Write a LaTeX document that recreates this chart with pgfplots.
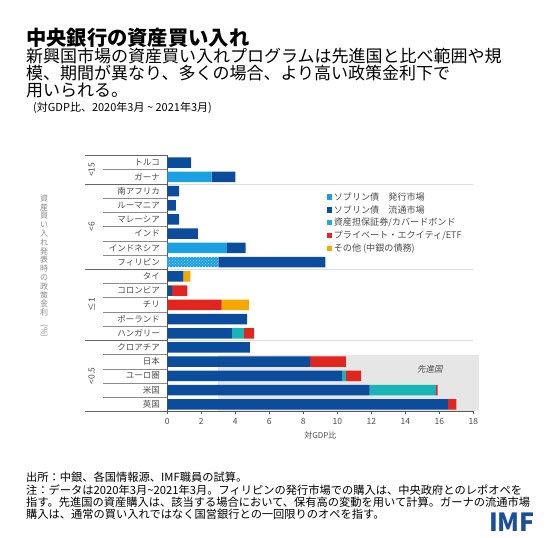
\documentclass[border=0pt]{standalone}
\usepackage{pgfplots}
\pgfplotsset{compat=1.18}
\usepackage{pgfplotstable}
\usepackage{fontspec}
\setmainfont{Noto Sans CJK JP}
\newfontfamily\slantcjk{Noto Sans CJK JP}[FakeSlant=0.2]
\usetikzlibrary{patterns}
\definecolor{lblue}{HTML}{1BA1E2}
\definecolor{dblue}{HTML}{0B4C9C}
\definecolor{tealc}{HTML}{17B4B8}
\definecolor{redc}{HTML}{E0261F}
\definecolor{orangec}{HTML}{F5A800}
\definecolor{txtgray}{HTML}{4D4D4D}
\definecolor{linegray}{HTML}{8C8C8C}
\definecolor{sepgray}{HTML}{DCDCDC}
\definecolor{bggray}{HTML}{E6E6E6}
\definecolor{imfblue}{HTML}{1B4F9C}

% y: 17 = top row (Turkey), 0 = bottom row (UK)
\pgfplotstableread{
y hatch lb db teal red orange
17 0 0 1.4 0 0 0
16 0 2.6 1.4 0 0 0
15 0 0 0.7 0 0 0
14 0 0 0.5 0 0 0
13 0 0 0.7 0 0 0
12 0 0 1.8 0 0 0
11 0 3.5 1.1 0 0 0
10 3.0 0 6.3 0 0 0
9 0 0 0.95 0 0 0.4
8 0 0 0.28 0 0.9 0
7 0 0 0 0 3.2 1.6
6 0 0 4.7 0 0 0
5 0 0 3.8 0.7 0.6 0
4 0 0 4.85 0 0 0
3 0 0 8.4 0 2.1 0
2 0 0 10.3 0.2 0.9 0
1 0 0 11.9 3.9 0.1 0
0 0 0 16.5 0 0.5 0
}\data

\pgfplotsset{geom/.style={
  at={(167.3pt,126.5pt)}, anchor=south west,
  scale only axis, width=306pt, height=256pt,
  xmin=0, xmax=18, ymin=-0.5, ymax=17.5, clip=false}}

\begin{document}
\begin{tikzpicture}[x=1pt,y=1pt]
\path[use as bounding box] (0,0) rectangle (560,538);

% Title block
\node[anchor=base west, inner sep=0, font=\bfseries\fontsize{20.3}{20}\selectfont] at (26,492) {中央銀行の資産買い入れ};
\node[anchor=base west, inner sep=0, font=\fontsize{17}{17}\selectfont] at (26,475) {新興国市場の資産買い入れプログラムは先進国と比べ範囲や規};
\node[anchor=base west, inner sep=0, font=\fontsize{17}{17}\selectfont] at (26,458) {模、期間が異なり、多くの場合、より高い政策金利下で};
\node[anchor=base west, inner sep=0, font=\fontsize{17}{17}\selectfont] at (26,441) {用いられる。};
\node[anchor=base west, inner sep=0, font=\fontsize{11}{11}\selectfont] at (33,426) {(対GDP比、2020年3月 \textasciitilde{} 2021年3月)};

% background layer axis
\begin{axis}[geom, hide axis]
\addplot[draw=none, forget plot] coordinates {(0,0)};
\fill[bggray] (axis cs:3,-0.5) rectangle (axis cs:18.35,3.5);
\draw[sepgray, line width=0.8pt] (axis cs:0,15.5) -- (axis cs:18,15.5);
\draw[sepgray, line width=0.8pt] (axis cs:0,9.5) -- (axis cs:18,9.5);
\draw[sepgray, line width=0.8pt] (axis cs:0,4.5) -- (axis cs:18,4.5);
\end{axis}

\begin{axis}[
  geom,
  xbar stacked, bar width=10.5pt,
  axis lines*=left,
  axis line style={-, draw=black!65, line width=0.6pt},
  xtick={0,2,...,18},
  xtick align=outside,
  major tick length=3pt,
  xtick style={draw=black!65, line width=0.5pt},
  ytick={0,...,17},
  ytick style={draw=none},
  yticklabels={英国,米国,ユーロ圏,日本,クロアチア,ハンガリー,ポーランド,チリ,コロンビア,タイ,フィリピン,インドネシア,インド,マレーシア,ルーマニア,南アフリカ,ガーナ,トルコ},
  yticklabel style={font=\fontsize{8.5}{9}\selectfont, text=txtgray, xshift=-4pt},
  /pgf/number format/assume math mode=true,
  xticklabel style={font=\fontsize{8.5}{9}\selectfont, text=txtgray},
  xlabel={対GDP比},
  xlabel style={font=\fontsize{8}{9}\selectfont, text=txtgray, yshift=-1pt},
  legend style={at={(axis description cs:0.52,0.865)}, anchor=north west, draw=none, fill=none,
     font=\fontsize{9.1}{10}\selectfont, text=txtgray, row sep=-0.3pt, inner sep=0pt,
     cells={anchor=west}},
  legend image code/.code={\fill[#1] (0pt,-2.6pt) rectangle (5.2pt,2.6pt);},
]
\addplot[fill=lblue, draw=none, postaction={pattern=crosshatch dots, pattern color=white!55!lblue}, forget plot] table[x=hatch, y=y] {\data};
\addplot[fill=lblue, draw=none] table[x=lb, y=y] {\data};
\addlegendentry{ソブリン債　発行市場}
\addplot[fill=dblue, draw=none] table[x=db, y=y] {\data};
\addlegendentry{ソブリン債　流通市場}
\addplot[fill=tealc, draw=none] table[x=teal, y=y] {\data};
\addlegendentry{資産担保証券/カバードボンド}
\addplot[fill=redc, draw=none] table[x=red, y=y] {\data};
\addlegendentry{プライベート・エクイティ/ETF}
\addplot[fill=orangec, draw=none] table[x=orange, y=y] {\data};
\addlegendentry{その他 (中銀の債務)}

% row separators in label column
\pgfplotsinvokeforeach{16.5,14.5,13.5,12.5,11.5,10.5,8.5,7.5,6.5,5.5,3.5,2.5,1.5,0.5}{
  \draw[linegray, line width=0.6pt] (axis cs:-3.78,#1) -- (axis cs:0,#1);
}
% group separators
\pgfplotsinvokeforeach{17.5,15.5,9.5,4.5,-0.5}{
  \draw[black!60, line width=0.7pt] (axis cs:-4.84,#1) -- (axis cs:0,#1);
}
% group labels
\node[rotate=90, font=\fontsize{8.5}{9}\selectfont, text=txtgray] at (axis cs:-4.45,16.5) {<15};
\node[rotate=90, font=\fontsize{8.5}{9}\selectfont, text=txtgray] at (axis cs:-4.45,12.5) {<6};
\node[rotate=90, font=\fontsize{8.5}{9}\selectfont, text=txtgray] at (axis cs:-4.45,7) {≤1};
\node[rotate=90, font=\fontsize{8.5}{9}\selectfont, text=txtgray] at (axis cs:-4.45,2) {<0.5};
\node[font=\slantcjk\fontsize{8.5}{9}\selectfont, text=txtgray] at (axis cs:15.45,2.5) {先進国};
\end{axis}

% vertical y-axis label
\node[align=center, inner sep=0, font=\fontsize{8}{8.8}\selectfont, text=black!45] at (44,272)
 {資\\産\\買\\い\\入\\れ\\発\\表\\時\\の\\政\\策\\金\\利\\\rotatebox{-90}{(\%)}};

% footer
\node[anchor=base west, inner sep=0, font=\fontsize{11.25}{12}\selectfont] at (26,56) {出所：中銀、各国情報源、IMF職員の試算。};
\node[anchor=base west, inner sep=0, font=\fontsize{11.25}{12}\selectfont] at (26,43) {注：データは2020年3月\textasciitilde 2021年3月。フィリピンの発行市場での購入は、中央政府とのレポオペを};
\node[anchor=base west, inner sep=0, font=\fontsize{11.25}{12}\selectfont] at (26,31) {指す。先進国の資産購入は、該当する場合において、保有高の変動を用いて計算。ガーナの流通市場};
\node[anchor=base west, inner sep=0, font=\fontsize{11.25}{12}\selectfont] at (26,19) {購入は、通常の買い入れではなく国営銀行との一回限りのオペを指す。};
\node[anchor=base east, inner sep=0, font=\bfseries\fontsize{25}{25}\selectfont, text=imfblue] at (535,6) {IMF};
\end{tikzpicture}
\end{document}
